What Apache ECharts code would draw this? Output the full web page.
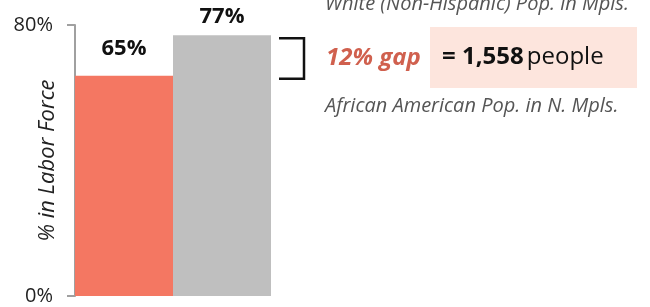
<!DOCTYPE html>
<html>
<head>
<meta charset="utf-8">
<script src="https://cdn.jsdelivr.net/npm/echarts@6/dist/echarts.min.js"></script>
<style>
  html, body { margin: 0; padding: 0; background: #fff; }
  #chart { width: 650px; height: 307px; }
</style>
</head>
<body>
<div id="chart"></div>
<script>
  var categories = ["African American Pop. in N. Mpls.", "White (Non-Hispanic) Pop. in Mpls."];
  var values = [65, 77];
  var barColors = ["#f47762", "#bfbfbf"];
  var gapText = "12% gap";
  var gapPeople = "1,558";
  var yMax = 80;

  var font = "Open Sans";
  var chart = echarts.init(document.getElementById("chart"));

  var option = {
    animation: false,
    textStyle: { fontFamily: font },
    grid: { left: 75, right: 379, top: 25, bottom: 11, outerBoundsMode: "none" },
    xAxis: {
      type: "category",
      data: categories,
      axisLine: { show: false },
      axisTick: { show: false },
      axisLabel: { show: false }
    },
    yAxis: {
      type: "value",
      min: 0,
      max: yMax,
      interval: yMax,
      name: "% in Labor Force",
      nameLocation: "middle",
      nameRotate: 90,
      nameGap: 16,
      nameMoveOverlap: false,
      nameTextStyle: { fontSize: 22, fontStyle: "italic", color: "#222", fontFamily: font },
      axisLine: { show: true, lineStyle: { color: "#a0a0a0", width: 2 } },
      axisTick: { show: true, length: 8, lineStyle: { color: "#a0a0a0", width: 2 } },
      splitLine: { show: false },
      axisLabel: { formatter: "{value}%", fontSize: 20, color: "#222", margin: 22 }
    },
    series: [{
      type: "bar",
      barCategoryGap: 0,
      data: values.map(function (v, i) {
        return {
          value: v,
          itemStyle: { color: barColors[i] },
          label: { distance: i === 0 ? 16 : 7 }
        };
      }),
      label: {
        show: true,
        position: "top",
        formatter: "{c}%",
        fontSize: 22,
        fontWeight: "bold",
        color: "#111"
      }
    }]
  };
  chart.setOption(option);

  // bracket between the two bar heights
  var yHi = chart.convertToPixel({ yAxisIndex: 0 }, values[1]) + 3;
  var yLo = chart.convertToPixel({ yAxisIndex: 0 }, values[0]) + 3;
  var bx0 = 279, bx1 = 304;

  chart.setOption({
    graphic: [
      {
        type: "polyline",
        shape: { points: [[bx0, yHi], [bx1, yHi], [bx1, yLo], [bx0, yLo]] },
        style: { stroke: "#111", lineWidth: 2.5, fill: null }
      },
      {
        type: "text",
        x: 326, y: (yHi + yLo) / 2,
        style: {
          text: gapText, fontSize: 24, fontStyle: "italic", fontWeight: "bold",
          fill: "#d0604e", fontFamily: font, verticalAlign: "middle"
        }
      },
      {
        type: "rect",
        shape: { x: 430, y: 27, width: 207, height: 61 },
        style: { fill: "#fde5dd" }
      },
      {
        type: "text",
        x: 442, y: (yHi + yLo) / 2 - 1,
        style: {
          text: "{b|= " + gapPeople + "} {n|people}",
          fontFamily: font, verticalAlign: "middle",
          rich: {
            b: { fontSize: 24, fontWeight: "bold", fill: "#111", fontFamily: font },
            n: { fontSize: 24, fill: "#111", fontFamily: font }
          }
        }
      },
      {
        type: "text",
        x: 325, y: 4,
        style: {
          text: categories[1], fontSize: 20, fontStyle: "italic",
          fill: "#555", fontFamily: font, verticalAlign: "middle"
        }
      },
      {
        type: "text",
        x: 325, y: 106,
        style: {
          text: categories[0], fontSize: 20, fontStyle: "italic",
          fill: "#555", fontFamily: font, verticalAlign: "middle"
        }
      }
    ]
  });
</script>
</body>
</html>
